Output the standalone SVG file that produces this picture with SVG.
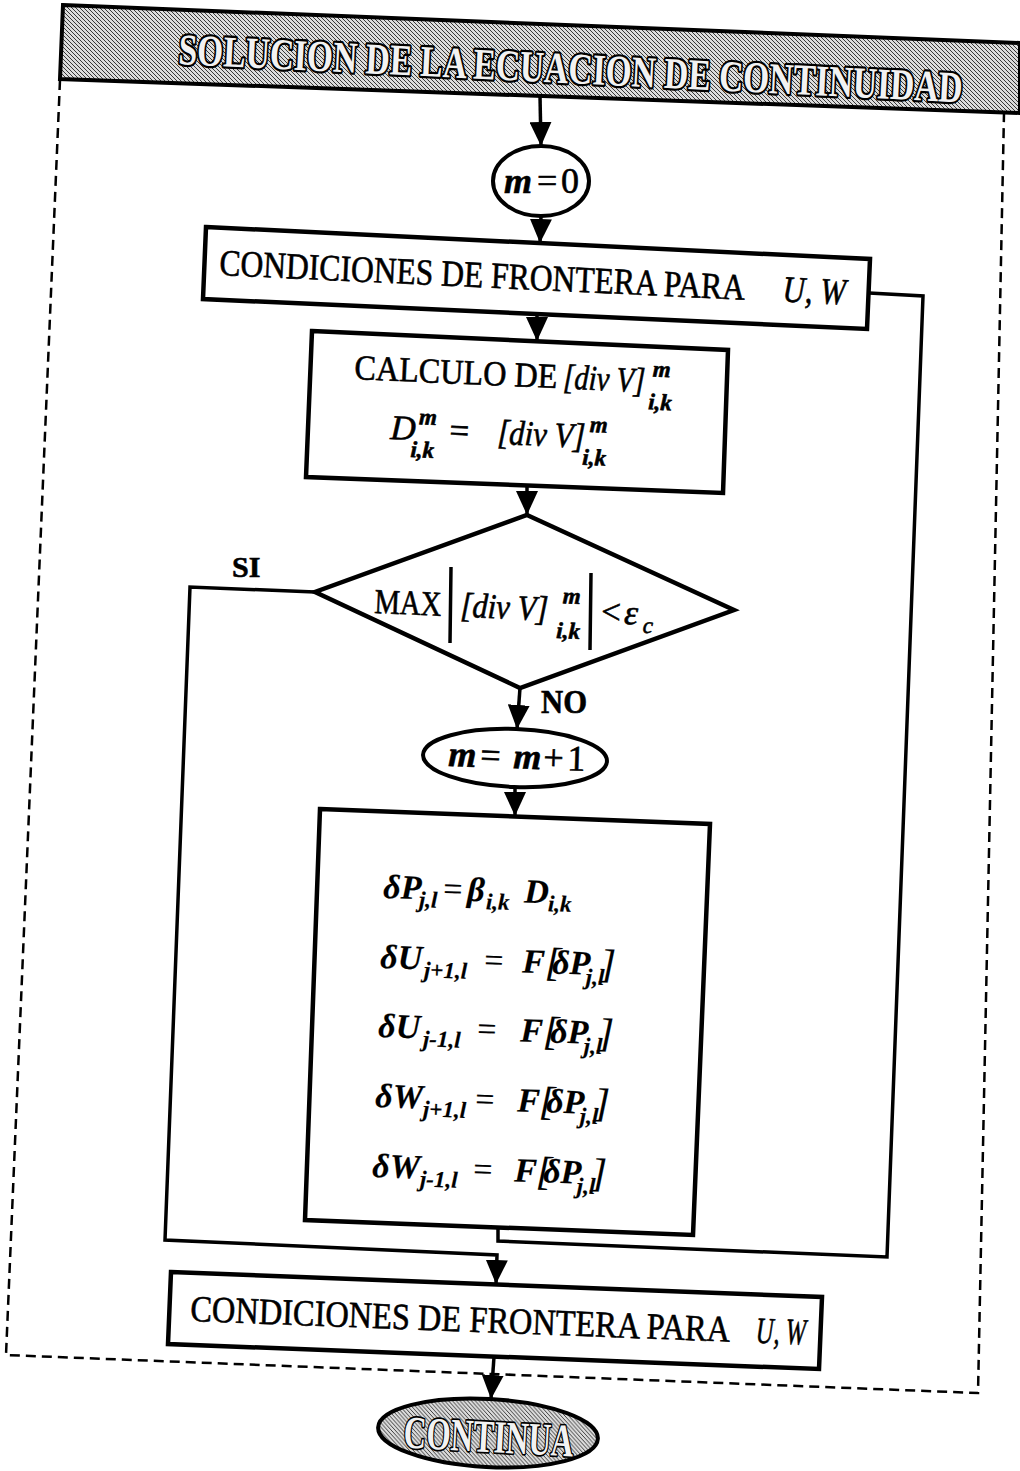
<svg xmlns="http://www.w3.org/2000/svg" width="1020" height="1471" viewBox="0 0 1020 1471">
<defs>
<pattern id="hatch" patternUnits="userSpaceOnUse" width="4" height="4">
<rect width="4" height="4" fill="#dcdcdc"/>
<path d="M-1,-1 L5,5 M-1,3 L1,5 M3,-1 L5,1" stroke="#262626" stroke-width="0.9"/>
</pattern>
<marker id="ah" markerUnits="userSpaceOnUse" markerWidth="24" markerHeight="22" refX="24" refY="11" orient="auto">
<path d="M0,0 L24,11 L0,22 Z" fill="#000"/>
</marker>
<style>
.box{fill:#fff;stroke:#000;stroke-width:4.5;stroke-linejoin:miter}
.ln{fill:none;stroke:#000;stroke-width:3.5;stroke-linejoin:miter}
.arr{fill:none;stroke:#000;stroke-width:3.5;marker-end:url(#ah)}
.dash{fill:none;stroke:#000;stroke-width:2.5;stroke-dasharray:10 6}
.t{font-family:"Liberation Serif","Times New Roman",serif;fill:#000;stroke:#000;stroke-width:0.6px}
.it{font-style:italic}
.b{font-weight:bold}
.up{font-style:normal;font-weight:normal}
.fm{font-style:italic;font-weight:bold;font-size:34px;stroke-width:0.2px}
.sub{font-size:23px}
.br{font-size:40px;font-weight:normal}
.hdr{font-family:"Liberation Serif","Times New Roman",serif;font-weight:bold;fill:#f2f2f2;stroke:#000;stroke-width:3.4px;stroke-linejoin:round;paint-order:stroke}
</style>
</defs>
<rect width="1020" height="1471" fill="#fff"/>

<g id="frame">
<path class="dash" d="M60,80 L6,1355 L978,1393 L1004,113"/>
</g>

<g id="banner">
<polygon points="63,5 1020,43 1020,113 60,79" fill="url(#hatch)" stroke="#000" stroke-width="4"/>
<text class="hdr" x="0" y="0" font-size="33" transform="translate(178 64) rotate(2.8) scale(1 1.33)" textLength="785" lengthAdjust="spacingAndGlyphs">SOLUCION DE LA ECUACION DE CONTINUIDAD</text>
</g>

<g id="connectors">
<path class="arr" d="M540,96 L541,146"/>
<path class="arr" d="M541,216 L540,243"/>
<path class="arr" d="M537,314 L537,341"/>
<path class="arr" d="M527,486 L527,515"/>
<path class="arr" d="M520,688 L517,729"/>
<path class="arr" d="M515,787 L515,816"/>
<path class="arr" d="M315,592 L190,587 L165,1240 L497,1255 L496,1284"/>
<path class="ln" d="M498,1228 L498,1241 L887,1257 L923,296 L869,293"/>
<path class="arr" d="M494,1357 L491,1399"/>
<text class="t b" x="232" y="577" font-size="30">SI</text>
<text class="t b" x="541" y="713" font-size="34" textLength="46" lengthAdjust="spacingAndGlyphs">NO</text>
</g>

<g id="start-m0">
<ellipse cx="541" cy="181" rx="48" ry="35" fill="#fff" stroke="#000" stroke-width="4"/>
<text class="t" font-size="36"><tspan class="it b" x="504" y="193">m</tspan><tspan x="537" y="193">=</tspan><tspan x="561" y="193">0</tspan></text>
</g>

<g id="boundary-1">
<polygon class="box" points="206,227 870,259 867,329 203,299"/>
<text class="t" font-size="37" transform="rotate(2.7 219 275)"><tspan x="219" y="275" textLength="526" lengthAdjust="spacingAndGlyphs">CONDICIONES DE FRONTERA PARA</tspan><tspan class="it" x="783" y="275" textLength="63" lengthAdjust="spacingAndGlyphs">U, W</tspan></text>
</g>

<g id="calculo">
<polygon class="box" points="312,331 728,350 723,493 306,477"/>
<text class="t" font-size="35" transform="rotate(2.6 354 379)"><tspan x="354" y="379" textLength="203" lengthAdjust="spacingAndGlyphs">CALCULO DE</tspan><tspan class="it" x="563" y="379" textLength="82" lengthAdjust="spacingAndGlyphs">[div V]</tspan><tspan class="it b" x="652" y="363" font-size="23">m</tspan><tspan class="it b" x="649" y="396" font-size="23">i,k</tspan></text>
<text class="t" font-size="35" transform="rotate(2.6 390 439)"><tspan class="it" x="390" y="439">D</tspan><tspan class="it b" x="418" y="423" font-size="23">m</tspan><tspan class="it b" x="411" y="456" font-size="23">i,k</tspan><tspan x="449" y="439">=</tspan><tspan class="it" x="497" y="439" textLength="88" lengthAdjust="spacingAndGlyphs">[div V]</tspan><tspan class="it b" x="589" y="423" font-size="23">m</tspan><tspan class="it b" x="583" y="456" font-size="23">i,k</tspan></text>
</g>

<g id="decision">
<polygon class="box" points="527,515 734,610 520,688 315,592"/>
<path class="ln" d="M451,567 L450,643 M591,573 L590,650" stroke-width="3"/>
<text class="t" font-size="35" transform="rotate(2.5 374 613)"><tspan x="374" y="613" textLength="67" lengthAdjust="spacingAndGlyphs">MAX</tspan><tspan class="it" x="460" y="613" textLength="88" lengthAdjust="spacingAndGlyphs">[div V]</tspan><tspan class="it b" x="562" y="595" font-size="23">m</tspan><tspan class="it b" x="557" y="630" font-size="23">i,k</tspan><tspan x="601" y="613">&lt;</tspan><tspan class="it" x="624" y="613">ε</tspan><tspan class="it" x="643" y="621" font-size="23">c</tspan></text>
</g>

<g id="increment">
<ellipse cx="515" cy="758" rx="92" ry="29" fill="#fff" stroke="#000" stroke-width="4" transform="rotate(2 515 758)"/>
<text class="t" font-size="36" transform="rotate(2 448 766)"><tspan class="it b" x="448" y="766">m</tspan><tspan x="480" y="766">=</tspan><tspan class="it b" x="513" y="766">m</tspan><tspan x="543" y="766">+</tspan><tspan x="567" y="766">1</tspan></text>
</g>

<g id="corrections">
<polygon class="box" points="320,809 710,824 693,1235 305,1220"/>
<text class="t fm" transform="rotate(1.8 383 898)"><tspan x="383" y="898">δP</tspan><tspan class="sub" x="419" y="906">j,l</tspan><tspan class="up" x="443" y="898">=</tspan><tspan x="467" y="898">β</tspan><tspan class="sub" x="486" y="906">i,k</tspan><tspan x="524" y="898">D</tspan><tspan class="sub" x="548" y="906">i,k</tspan></text>
<text class="t fm" transform="rotate(1.8 380 968)"><tspan x="380" y="968">δU</tspan><tspan class="sub" x="424" y="976">j+1,l</tspan><tspan class="up" x="484" y="968">=</tspan><tspan x="522" y="968">F</tspan><tspan class="br" x="545" y="970">[</tspan><tspan x="552" y="968">δP</tspan><tspan class="sub" x="586" y="978">j,l</tspan><tspan class="br" x="600" y="970">]</tspan></text>
<text class="t fm" transform="rotate(1.8 378 1037)"><tspan x="378" y="1037">δU</tspan><tspan class="sub" x="423" y="1045">j-1,l</tspan><tspan class="up" x="477" y="1037">=</tspan><tspan x="520" y="1037">F</tspan><tspan class="br" x="543" y="1039">[</tspan><tspan x="550" y="1037">δP</tspan><tspan class="sub" x="584" y="1047">j,l</tspan><tspan class="br" x="598" y="1039">]</tspan></text>
<text class="t fm" transform="rotate(1.8 375 1107)"><tspan x="375" y="1107">δW</tspan><tspan class="sub" x="423" y="1115">j+1,l</tspan><tspan class="up" x="475" y="1107">=</tspan><tspan x="517" y="1107">F</tspan><tspan class="br" x="539" y="1109">[</tspan><tspan x="546" y="1107">δP</tspan><tspan class="sub" x="580" y="1117">j,l</tspan><tspan class="br" x="594" y="1109">]</tspan></text>
<text class="t fm" transform="rotate(1.8 372 1177)"><tspan x="372" y="1177">δW</tspan><tspan class="sub" x="420" y="1185">j-1,l</tspan><tspan class="up" x="473" y="1177">=</tspan><tspan x="514" y="1177">F</tspan><tspan class="br" x="536" y="1179">[</tspan><tspan x="543" y="1177">δP</tspan><tspan class="sub" x="577" y="1187">j,l</tspan><tspan class="br" x="591" y="1179">]</tspan></text>
</g>

<g id="boundary-2">
<polygon class="box" points="171,1272 822,1297 819,1369 168,1344"/>
<text class="t" font-size="37" transform="rotate(2.2 190 1321)"><tspan x="190" y="1321" textLength="540" lengthAdjust="spacingAndGlyphs">CONDICIONES DE FRONTERA PARA</tspan><tspan class="it" x="756" y="1321" textLength="50" lengthAdjust="spacingAndGlyphs">U, W</tspan></text>
</g>

<g id="end-continua">
<ellipse cx="488" cy="1433" rx="110" ry="34" fill="url(#hatch)" stroke="#000" stroke-width="4" transform="rotate(3 488 1433)"/>
<text class="hdr" x="488" y="1452" font-size="46" text-anchor="middle" textLength="170" lengthAdjust="spacingAndGlyphs" transform="rotate(3 488 1452)">CONTINUA</text>
</g>
</svg>
